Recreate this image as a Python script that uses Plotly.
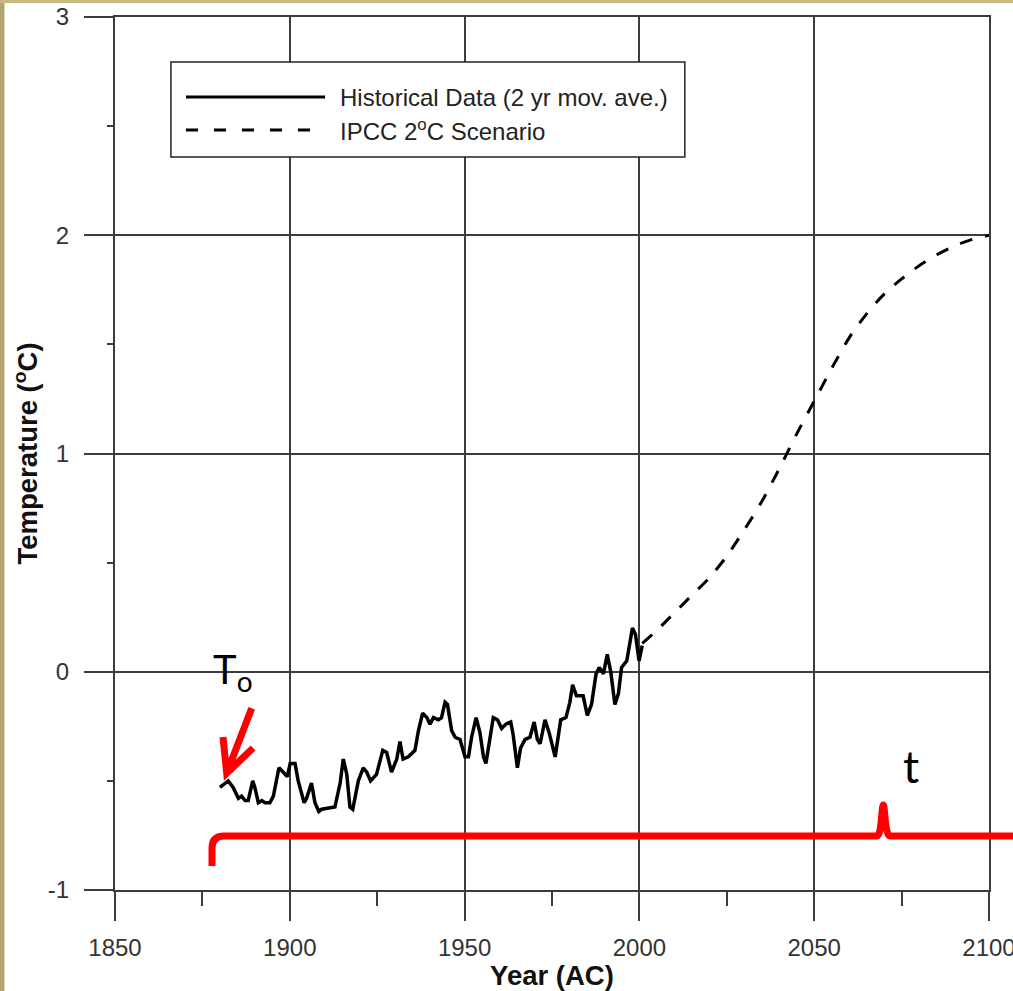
import plotly.graph_objects as go

# ---------------- data ----------------
hist_year = [1880.0, 1882.4, 1883.8, 1885.3, 1886.2, 1887.2, 1888.1, 1889.4, 1890.0, 1891.0,
             1892.0, 1892.9, 1894.3, 1895.3, 1896.9, 1898.1, 1899.3, 1900.1, 1901.5, 1902.4,
             1904.1, 1904.8, 1906.2, 1907.2, 1908.3, 1909.1, 1912.9, 1914.4, 1915.3, 1916.3,
             1917.2, 1918.0, 1919.6, 1921.0, 1922.0, 1923.1, 1924.8, 1926.6, 1927.7, 1929.1,
             1930.6, 1931.5, 1932.4, 1933.9, 1935.8, 1936.8, 1938.0, 1939.2, 1940.1, 1941.1,
             1942.5, 1943.4, 1944.4, 1945.1, 1946.3, 1947.3, 1948.7, 1950.1, 1951.1, 1952.0,
             1953.3, 1954.4, 1955.4, 1956.1, 1957.1, 1958.2, 1959.4, 1960.6, 1961.8, 1963.2,
             1963.9, 1965.1, 1966.0, 1967.3, 1968.7, 1969.9, 1970.8, 1971.6, 1973.0, 1974.2,
             1975.9, 1977.5, 1979.0, 1980.1, 1980.9, 1982.0, 1983.0, 1983.9, 1985.1, 1986.3,
             1987.6, 1988.5, 1989.7, 1990.8, 1991.8, 1993.0, 1994.0, 1994.9, 1996.4, 1998.0,
             1998.9, 1999.9, 2000.8]
hist_temp = [-0.53, -0.50, -0.53, -0.58, -0.57, -0.59, -0.59, -0.50, -0.53, -0.60,
             -0.59, -0.60, -0.60, -0.57, -0.44, -0.46, -0.48, -0.42, -0.42, -0.50,
             -0.60, -0.58, -0.51, -0.60, -0.64, -0.63, -0.62, -0.51, -0.40, -0.47,
             -0.62, -0.63, -0.50, -0.44, -0.46, -0.50, -0.47, -0.36, -0.37, -0.46,
             -0.40, -0.32, -0.40, -0.39, -0.36, -0.27, -0.19, -0.21, -0.24, -0.21,
             -0.22, -0.21, -0.14, -0.15, -0.27, -0.30, -0.31, -0.39, -0.39, -0.30,
             -0.21, -0.28, -0.39, -0.42, -0.31, -0.21, -0.22, -0.26, -0.24, -0.23,
             -0.29, -0.44, -0.35, -0.31, -0.30, -0.23, -0.31, -0.33, -0.22, -0.28,
             -0.39, -0.22, -0.21, -0.14, -0.06, -0.11, -0.11, -0.11, -0.20, -0.15,
             -0.01, 0.02, -0.01, 0.08, 0.00, -0.15, -0.10, 0.02, 0.05, 0.20,
             0.17, 0.05, 0.12]

scen_year = [2000.8, 2005, 2010, 2015, 2020, 2025, 2030, 2035, 2040, 2045, 2050,
             2055, 2060, 2065, 2070, 2075, 2080, 2085, 2090, 2095, 2100]
scen_temp = [0.13, 0.19, 0.27, 0.35, 0.43, 0.53, 0.65, 0.78, 0.93, 1.09, 1.24,
             1.39, 1.53, 1.64, 1.73, 1.80, 1.86, 1.91, 1.95, 1.98, 2.00]

legend_labels = ["Historical Data (2 yr mov. ave.)", "IPCC 2<sup>o</sup>C Scenario"]
x_tickvals = [1850, 1900, 1950, 2000, 2050, 2100]
y_tickvals = [-1, 0, 1, 2, 3]
y_ticktext = ["-1", "0", "1", "2", "3"]

# ---------------- layout constants ----------------
W, H = 1013, 991
ML, MR, MT, MB = 115, 24, 17, 101
X0, X1 = 1850, 2100
Y0, Y1 = -1, 3
AXC = "#3c3c3c"
FONT = "Liberation Sans, Arial, sans-serif"


def xp(year):
    return (year - X0) / (X1 - X0)


def yp(temp):
    return (temp - Y0) / (Y1 - Y0)


fig = go.Figure()
fig.add_trace(go.Scatter(x=hist_year, y=hist_temp, mode="lines",
                         line=dict(color="black", width=3.5), name=legend_labels[0],
                         showlegend=False, hoverinfo="skip"))
fig.add_trace(go.Scatter(x=scen_year, y=scen_temp, mode="lines",
                         line=dict(color="black", width=3, dash="13px,13px",
                                   shape="spline", smoothing=0.8),
                         name=legend_labels[1], showlegend=False, hoverinfo="skip"))

shapes = []
annotations = []

# page border strips (slide frame)
pw = (W - ML - MR)
ph = (H - MT - MB)
left_px = -ML / pw
right_px = (W - ML) / pw
bot_px = -MB / ph
top_px = (H - MB) / ph
shapes.append(dict(type="rect", xref="paper", yref="paper", x0=left_px, x1=left_px + 4.5 / pw,
                   y0=bot_px, y1=top_px, fillcolor="#B4A56E", line=dict(width=0), layer="above"))
shapes.append(dict(type="rect", xref="paper", yref="paper", x0=left_px, x1=right_px,
                   y0=top_px - 3 / ph, y1=top_px, fillcolor="#C8B882", line=dict(width=0), layer="above"))

# legend box
lg_x0, lg_x1, lg_y0, lg_y1 = 1866.0, 2013.0, 2.358, 2.794
shapes.append(dict(type="rect", xref="paper", yref="paper", x0=xp(lg_x0), x1=xp(lg_x1),
                   y0=yp(lg_y0), y1=yp(lg_y1), fillcolor="white",
                   line=dict(color="#222", width=1.5), layer="above"))
sx0, sx1 = 1870.3, 1910.1
row_y = [2.633, 2.482]
shapes.append(dict(type="line", xref="paper", yref="paper", x0=xp(sx0), x1=xp(sx1),
                   y0=yp(row_y[0]), y1=yp(row_y[0]), line=dict(color="black", width=3), layer="above"))
shapes.append(dict(type="line", xref="paper", yref="paper", x0=xp(sx0), x1=xp(sx1),
                   y0=yp(row_y[1]), y1=yp(row_y[1]),
                   line=dict(color="black", width=3, dash="12px,16px"), layer="above"))
for lab, ry in zip(legend_labels, row_y):
    annotations.append(dict(xref="paper", yref="paper", x=xp(1913.8), y=yp(ry), text=lab,
                            showarrow=False, xanchor="left", yanchor="middle",
                            font=dict(family=FONT, size=24, color="#222")))

# red bracket with time mark
bx, by_bot, by_h = 1877.75, -0.890, -0.753
c1x = 1881.2
pk_l, pk_x, pk_r, pk_top = 2067.9, 2069.76, 2071.7, -0.611
bx_end = 2106.9
path = (f"M {xp(bx)},{yp(by_bot)} L {xp(bx)},{yp(-0.808)} "
        f"Q {xp(bx)},{yp(by_h)} {xp(c1x)},{yp(by_h)} "
        f"L {xp(pk_l)},{yp(by_h)} "
        f"C {xp(pk_x - 0.4)},{yp(by_h)} {xp(pk_x - 0.5)},{yp(pk_top)} {xp(pk_x)},{yp(pk_top)} "
        f"C {xp(pk_x + 0.5)},{yp(pk_top)} {xp(pk_x + 0.4)},{yp(by_h)} {xp(pk_r)},{yp(by_h)} "
        f"L {xp(bx_end)},{yp(by_h)}")
shapes.append(dict(type="path", xref="paper", yref="paper", path=path,
                   line=dict(color="#FF0000", width=7), layer="above"))

# red arrow pointing to T0
tail = (1889.1, -0.167)
tip = (1881.95, -0.465)
w1 = (1880.9, -0.299)
w2 = (1889.5, -0.349)
apath = (f"M {xp(tail[0])},{yp(tail[1])} L {xp(tip[0])},{yp(tip[1])} "
         f"M {xp(w1[0])},{yp(w1[1])} L {xp(tip[0])},{yp(tip[1])} L {xp(w2[0])},{yp(w2[1])}")
shapes.append(dict(type="path", xref="paper", yref="paper", path=apath,
                   line=dict(color="#FF0000", width=7), layer="above"))

annotations.append(dict(xref="paper", yref="paper", x=xp(1877.5), y=yp(0.0),
                        text="T<sub>o</sub>", showarrow=False, xanchor="left", yanchor="middle",
                        font=dict(family="Lato, Liberation Sans, sans-serif", size=40, color="black")))
annotations.append(dict(xref="paper", yref="paper", x=xp(2077.6), y=yp(-0.43),
                        text="t", showarrow=False, xanchor="center", yanchor="middle",
                        font=dict(family="Lato, Liberation Sans, sans-serif", size=45, color="black")))

fig.update_layout(
    width=W, height=H,
    margin=dict(l=ML, r=MR, t=MT, b=MB, pad=0, autoexpand=False),
    paper_bgcolor="white", plot_bgcolor="white",
    showlegend=False,
    shapes=shapes, annotations=annotations,
    font=dict(family=FONT, color="#333"),
)
fig.update_xaxes(
    range=[X0, X1], tickmode="array", tickvals=x_tickvals, automargin=False,
    ticklabeloverflow="allow",
    showgrid=True, gridcolor=AXC, gridwidth=2, zeroline=False,
    showline=True, linecolor=AXC, linewidth=2, mirror=True,
    ticks="outside", ticklen=29, tickwidth=2, tickcolor=AXC,
    ticklabelstandoff=6,
    tickfont=dict(family=FONT, size=24, color="#333"),
    minor=dict(dtick=25, tick0=1850, ticks="outside", ticklen=14, tickwidth=2,
               tickcolor=AXC, showgrid=False),
    title=dict(text="<b>Year (AC)</b>", font=dict(family=FONT, size=27.5, color="#111"), standoff=7),
)
fig.update_yaxes(
    range=[Y0, Y1], tickmode="array", tickvals=y_tickvals, ticktext=y_ticktext, automargin=False,
    ticklabeloverflow="allow",
    showgrid=True, gridcolor=AXC, gridwidth=2, zeroline=False,
    showline=True, linecolor=AXC, linewidth=2, mirror=True,
    ticks="outside", ticklen=29, tickwidth=2, tickcolor=AXC,
    ticklabelstandoff=10,
    tickfont=dict(family=FONT, size=24, color="#333"),
    minor=dict(dtick=0.5, tick0=-1, ticks="outside", ticklen=6, tickwidth=2,
               tickcolor=AXC, showgrid=False),
    title=dict(text="<b>Temperature (<sup>o</sup>C)</b>", font=dict(family=FONT, size=27.5, color="#111"),
               standoff=2),
)

fig.write_html("out.html")
